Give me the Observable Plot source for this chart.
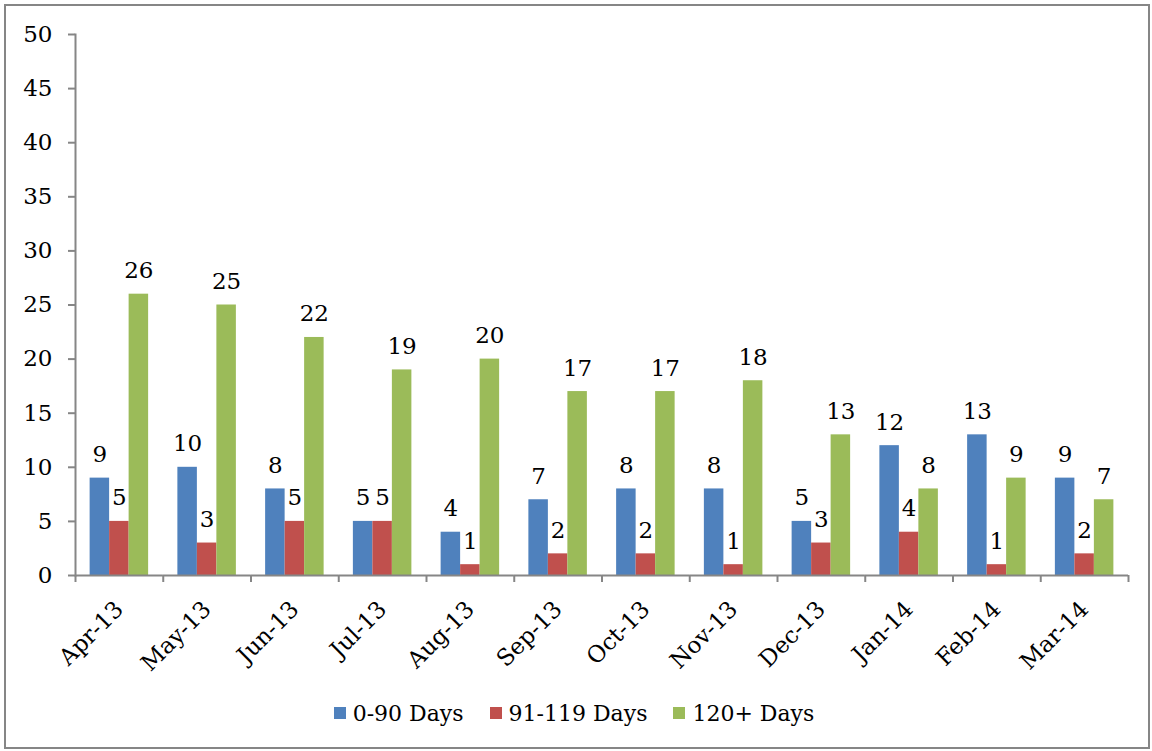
<!DOCTYPE html>
<html>
<head>
<meta charset="utf-8">
<script src="https://cdn.jsdelivr.net/npm/d3@7"></script>
<script src="https://cdn.jsdelivr.net/npm/@observablehq/plot@0.6"></script>
<style>
  html, body { margin: 0; padding: 0; background: #fff; }
  body { width: 1152px; height: 751px; position: relative; overflow: hidden; font-family: "DejaVu Serif", serif; }
  #frame { position: absolute; left: 4px; top: 4px; width: 1146px; height: 745px; box-sizing: border-box; border: 2px solid #868686; pointer-events: none; }
  #chart svg { display: block; }
  #legend { display: flex; justify-content: center; align-items: center; height: 26px; font-size: 22px; color: #000; margin-left: -4px; margin-top: 10px; }
  #legend .item { display: flex; align-items: center; margin: 0 13px; }
  #legend .sw { width: 12px; height: 12px; margin-right: 7px; }
</style>
</head>
<body>
<div id="chart"></div>
<div id="legend"></div>
<div id="frame"></div>
<script>
const months = ["Apr-13","May-13","Jun-13","Jul-13","Aug-13","Sep-13","Oct-13","Nov-13","Dec-13","Jan-14","Feb-14","Mar-14"];
const series = ["0-90 Days","91-119 Days","120+ Days"];
const days0to90 = [9,10,8,5,4,7,8,8,5,12,13,9];
const days91to119 = [5,3,5,5,1,2,2,1,3,4,1,2];
const days120plus = [26,25,22,19,20,17,17,18,13,8,9,7];
const colors = ["#4F81BD","#C0504D","#9BBB59"];
const yTicks = [0,5,10,15,20,25,30,35,40,45,50];

const seriesValues = [days0to90, days91to119, days120plus];
const data = months.flatMap((m, i) => series.map((s, j) => ({month: m, series: s, value: seriesValues[j][i]})));

const W = 1152, H = 690, ML = 75, MR = 24;
const halfStep = (W - ML - MR) / months.length / 2;
const axisColor = "#868686";

const chart = Plot.plot({
  width: W, height: H,
  marginLeft: ML, marginRight: MR, marginTop: 34, marginBottom: H - 575,
  style: {fontFamily: "DejaVu Serif", fontSize: "23px", color: "#000", background: "transparent", overflow: "visible"},
  fx: {domain: months, padding: 0, round: false, label: null},
  x: {domain: series, paddingInner: 0, paddingOuter: 0.75, round: false, axis: null},
  y: {domain: [0, 50], label: null},
  color: {domain: series, range: colors},
  marks: [
    Plot.barY(data, {fx: "month", x: "series", y: "value", fill: "series"}),
    Plot.text(data, {fx: "month", x: "series", y: "value", text: "value", lineAnchor: "bottom", dy: -16, fill: "#000", fontSize: 23}),
    Plot.ruleY([0], {stroke: axisColor, strokeWidth: 2}),
    Plot.frame({anchor: "left", facetAnchor: "left", stroke: axisColor, strokeWidth: 2}),
    Plot.axisY({ticks: yTicks, tickSize: 7, tickPadding: 16, stroke: axisColor, strokeWidth: 2, label: null}),
    Plot.axisFx({anchor: "bottom", tickSize: 0, tickRotate: -45, tickPadding: 30, label: null}),
    Plot.axisFx({anchor: "bottom", tickSize: 7, tickFormat: () => "", dx: -halfStep, stroke: axisColor, strokeWidth: 2, label: null}),
    Plot.axisFx({anchor: "bottom", ticks: [months[months.length - 1]], tickSize: 7, tickFormat: () => "", dx: halfStep, stroke: axisColor, strokeWidth: 2, label: null})
  ]
});
document.getElementById("chart").appendChild(chart);

const legend = document.getElementById("legend");
series.forEach((s, i) => {
  const item = document.createElement("div");
  item.className = "item";
  const sw = document.createElement("span");
  sw.className = "sw";
  sw.style.background = colors[i];
  const t = document.createElement("span");
  t.textContent = s;
  item.appendChild(sw); item.appendChild(t);
  legend.appendChild(item);
});
</script>
</body>
</html>
